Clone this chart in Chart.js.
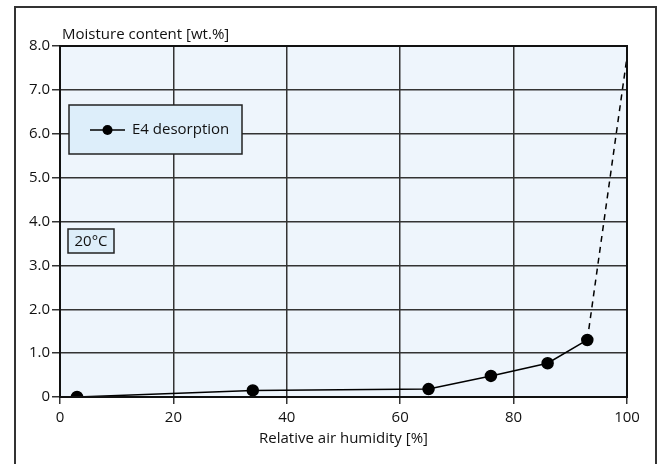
<!DOCTYPE html>
<html><head><meta charset="utf-8">
<script src="https://cdn.jsdelivr.net/npm/chart.js@4/dist/chart.umd.min.js"></script>
<style>html,body{margin:0;padding:0;background:#fff}#wrap{width:660px;height:464px}</style>
</head><body><div id="wrap"><canvas id="c" width="660" height="464"></canvas></div>
<script>
const humidity = [3, 34, 65, 76, 86, 93];
const moisture = [0, 0.15, 0.18, 0.48, 0.77, 1.30];
const extrapHumidity = [93, 100];
const extrapMoisture = [1.30, 7.75];
const seriesName = 'E4 desorption';
const yTitle = 'Moisture content [wt.%]';
const xTitle = 'Relative air humidity [%]';
const tempLabel = '20°C';
const xTicks = [0, 20, 40, 60, 80, 100];
const yTicks = [0, 1, 2, 3, 4, 5, 6, 7, 8];

const FONT = '"Open Sans", "DejaVu Sans", sans-serif';
const measured = humidity.map((x, i) => ({x, y: moisture[i]}));
const extrap = extrapHumidity.map((x, i) => ({x, y: extrapMoisture[i]}));

const deco = {
  id: 'deco',
  beforeDraw(chart) {
    const {ctx, chartArea: a} = chart;
    ctx.save();
    ctx.fillStyle = '#fff';
    ctx.fillRect(0, 0, chart.width, chart.height);
    ctx.fillStyle = '#eef5fc';
    ctx.fillRect(a.left, a.top, a.right - a.left, a.bottom - a.top);
    ctx.restore();
  },
  afterDraw(chart) {
    const {ctx, chartArea: a} = chart;
    ctx.save();
    // outer frame (open at the bottom)
    ctx.strokeStyle = '#333';
    ctx.lineWidth = 2;
    ctx.beginPath();
    ctx.moveTo(15, 470); ctx.lineTo(15, 7); ctx.lineTo(656, 7); ctx.lineTo(656, 470);
    ctx.stroke();
    // plot border
    ctx.lineWidth = 2;
    ctx.strokeStyle = '#111';
    ctx.strokeRect(a.left, a.top, a.right - a.left, a.bottom - a.top);
    // titles
    ctx.fillStyle = '#111';
    ctx.font = '15px ' + FONT;
    ctx.textBaseline = 'alphabetic';
    ctx.textAlign = 'left';
    ctx.fillText(yTitle, 62, 39);
    ctx.textAlign = 'center';
    ctx.fillText(xTitle, (a.left + a.right) / 2, 443);
    // legend box
    ctx.fillStyle = '#ddeefa';
    ctx.fillRect(69, 105, 173, 49);
    ctx.strokeStyle = '#222';
    ctx.lineWidth = 1.5;
    ctx.strokeRect(69, 105, 173, 49);
    ctx.beginPath();
    ctx.moveTo(90, 130); ctx.lineTo(125, 130);
    ctx.lineWidth = 1.5; ctx.strokeStyle = '#000'; ctx.stroke();
    ctx.beginPath(); ctx.arc(107.5, 130, 5, 0, Math.PI * 2); ctx.fillStyle = '#000'; ctx.fill();
    ctx.fillStyle = '#111';
    ctx.textAlign = 'left';
    ctx.textBaseline = 'middle';
    ctx.fillText(seriesName, 132, 130);
    // temperature box
    ctx.fillStyle = '#ddeefa';
    ctx.fillRect(68, 229, 46, 24);
    ctx.strokeStyle = '#222';
    ctx.lineWidth = 1.5;
    ctx.strokeRect(68, 229, 46, 24);
    ctx.fillStyle = '#111';
    ctx.textAlign = 'center';
    ctx.fillText(tempLabel, 91, 241.5);
    ctx.restore();
  }
};

new Chart(document.getElementById('c'), {
  type: 'scatter',
  data: {
    datasets: [
      {label: seriesName, data: measured, showLine: true, borderColor: '#000', backgroundColor: '#000',
       borderWidth: 1.5, pointRadius: 5.5, pointHoverRadius: 5.5, order: 1},
      {label: 'extrapolation', data: extrap, showLine: true, borderColor: '#000', borderWidth: 1.5,
       borderDash: [6, 5], pointRadius: 0, order: 2}
    ]
  },
  options: {
    responsive: false,
    animation: false,
    devicePixelRatio: 1,
    layout: {padding: {left: 0, top: 46, right: 33, bottom: 0}},
    plugins: {legend: {display: false}, tooltip: {enabled: false}},
    scales: {
      x: {
        type: 'linear', min: 0, max: 100,
        afterFit(s) { s.height = 67; },
        afterBuildTicks(s) { s.ticks = xTicks.map(v => ({value: v})); },
        grid: {color: '#333', lineWidth: 1.5, tickLength: 7, drawTicks: true},
        border: {display: false},
        ticks: {color: '#111', font: {family: FONT, size: 15}, padding: 5,
                callback: v => String(v)}
      },
      y: {
        type: 'linear', min: 0, max: 8,
        afterFit(s) { s.width = 60; },
        afterBuildTicks(s) { s.ticks = yTicks.map(v => ({value: v})); },
        grid: {color: '#333', lineWidth: 1.5, tickLength: 8, drawTicks: true},
        border: {display: false},
        ticks: {color: '#111', font: {family: FONT, size: 15}, padding: 2,
                callback: v => v === 0 ? '0' : v.toFixed(1)}
      }
    }
  },
  plugins: [deco]
});
</script></body></html>
